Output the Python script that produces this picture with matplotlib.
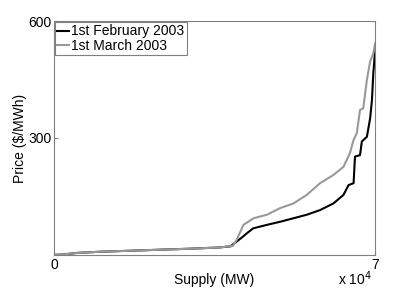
import numpy as np
import matplotlib.pyplot as plt

plt.rcParams['font.family'] = ['Liberation Sans', 'DejaVu Sans']

# supply curves [MW], [$/MWh]
supply_feb = [0, 2000, 5000, 10000, 20000, 30000, 36000, 38500, 39800, 41000, 42000,
              43400, 46400, 49300, 52200, 55100, 58000, 60900, 63100, 64200,
              65300, 65600, 66700, 67100, 68200, 68900, 69300, 69600, 70000]
price_feb = [0, 1, 5, 8, 12, 16, 19, 22, 34, 45, 55,
             68, 77, 85, 94, 103, 115, 132, 154, 179,
             184, 252, 256, 291, 303, 350, 397, 466, 526]

supply_mar = [0, 2000, 5000, 10000, 20000, 30000, 36000, 39000, 39800, 41300, 43500,
              46400, 49300, 52200, 55100, 58000, 60900, 63100, 64500, 65300,
              66000, 66700, 67400, 68200, 68900, 69600, 70000]
price_mar = [0, 1, 5, 8, 12, 16, 19, 23, 38, 77, 94,
             103, 120, 132, 154, 184, 205, 226, 261, 295,
             312, 372, 376, 449, 496, 517, 543]

fig = plt.figure(figsize=(4.15, 2.88), dpi=100)
ax = fig.add_axes([0.130, 0.115, 0.774, 0.812])

ax.plot(supply_feb, price_feb, color='black', lw=1.5,
        label='1st February 2003')
ax.plot(supply_mar, price_mar, color='#999999', lw=1.5,
        label='1st March 2003')

ax.set_xlim(0, 70000)
ax.set_ylim(0, 600)
ax.set_xticks([0, 70000])
ax.set_xticklabels(['0', '7'])
ax.set_yticks([300, 600])
ax.set_yticklabels(['300', '600'])
ax.tick_params(direction='in', length=3, color='#808080', labelsize=10, pad=2)
for s in ax.spines.values():
    s.set_color('#808080')

ax.text(0.99, -0.06, r'x 10$^4$', transform=ax.transAxes, ha='right', va='top',
        fontsize=10)

ax.set_xlabel('Supply (MW)', fontsize=10, labelpad=1)
ax.set_ylabel('Price ($/MWh)', fontsize=10, labelpad=1)

leg = ax.legend(loc='upper left', fontsize=10, handlelength=0.8, handletextpad=0.2,
                borderaxespad=0.1, borderpad=0.15, labelspacing=0.05, fancybox=False,
                framealpha=1)
leg.get_frame().set_edgecolor('#808080')
leg.get_frame().set_linewidth(0.8)

fig.savefig('out.png', dpi=100)
